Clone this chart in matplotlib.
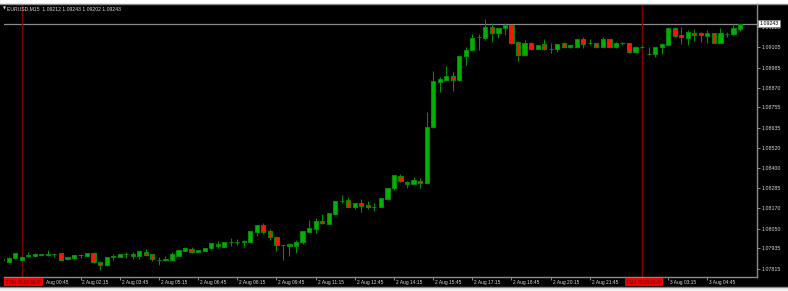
import matplotlib
matplotlib.use("Agg")
import matplotlib.pyplot as plt
from matplotlib.lines import Line2D
from matplotlib.patches import Rectangle
import numpy as np

# ---- data: EURUSD M15, one value per bar (bar 0 = 1 Aug 23:15) ---------- #
opens = [1.07867, 1.07857, 1.07877, 1.07866, 1.07888, 1.07891, 1.07896, 1.07899, 1.07901, 1.07906,
         1.07871, 1.07877, 1.07898, 1.07891, 1.07910, 1.07856, 1.07837, 1.07886, 1.07883, 1.07902,
         1.07904, 1.07891, 1.07916, 1.07901, 1.07869, 1.07870, 1.07869, 1.07892, 1.07922, 1.07930,
         1.07912, 1.07922, 1.07935, 1.07962, 1.07943, 1.07971, 1.07973, 1.07972, 1.07974, 1.08032,
         1.08071, 1.08034, 1.08003, 1.07954, 1.07959, 1.07949, 1.07974, 1.08030, 1.08050, 1.08094,
         1.08079, 1.08137, 1.08208, 1.08215, 1.08178, 1.08201, 1.08187, 1.08176, 1.08174, 1.08221,
         1.08288, 1.08356, 1.08323, 1.08311, 1.08329, 1.08314, 1.08643, 1.08905, 1.08913, 1.08938,
         1.08913, 1.09055, 1.09091, 1.09164, 1.09161, 1.09225, 1.09187, 1.09216, 1.09235, 1.09134,
         1.09059, 1.09129, 1.09094, 1.09123, 1.09097, 1.09097, 1.09129, 1.09105, 1.09105, 1.09152,
         1.09129, 1.09129, 1.09105, 1.09154, 1.09109, 1.09129, 1.09129, 1.09080, 1.09108, 1.09064,
         1.09065, 1.09105, 1.09119, 1.09219, 1.09177, 1.09161, 1.09189, 1.09187, 1.09171, 1.09190,
         1.09132, 1.09183, 1.09181, 1.09212]
highs = [1.07879, 1.07882, 1.07908, 1.07888, 1.07916, 1.07908, 1.07905, 1.07927, 1.07908, 1.07908,
         1.07887, 1.07897, 1.07901, 1.07908, 1.07912, 1.07859, 1.07887, 1.07904, 1.07905, 1.07916,
         1.07912, 1.07921, 1.07931, 1.07904, 1.07887, 1.07891, 1.07912, 1.07927, 1.07945, 1.07945,
         1.07927, 1.07940, 1.07967, 1.07978, 1.07974, 1.07997, 1.07990, 1.07981, 1.08037, 1.08071,
         1.08081, 1.08046, 1.08007, 1.07956, 1.07965, 1.07984, 1.08036, 1.08100, 1.08110, 1.08133,
         1.08142, 1.08211, 1.08246, 1.08236, 1.08202, 1.08221, 1.08213, 1.08197, 1.08229, 1.08289,
         1.08363, 1.08366, 1.08327, 1.08352, 1.08343, 1.08730, 1.08967, 1.08934, 1.08998, 1.08960,
         1.09057, 1.09105, 1.09181, 1.09180, 1.09268, 1.09245, 1.09220, 1.09245, 1.09236, 1.09144,
         1.09148, 1.09138, 1.09120, 1.09152, 1.09129, 1.09126, 1.09138, 1.09118, 1.09154, 1.09164,
         1.09152, 1.09131, 1.09164, 1.09156, 1.09138, 1.09138, 1.09132, 1.09110, 1.09119, 1.09109,
         1.09107, 1.09129, 1.09220, 1.09220, 1.09225, 1.09206, 1.09212, 1.09196, 1.09206, 1.09191,
         1.09216, 1.09196, 1.09241, 1.09243]
lows = [1.07862, 1.07856, 1.07876, 1.07864, 1.07883, 1.07885, 1.07894, 1.07892, 1.07883, 1.07867,
        1.07869, 1.07876, 1.07877, 1.07889, 1.07852, 1.07809, 1.07834, 1.07869, 1.07882, 1.07877,
        1.07873, 1.07871, 1.07891, 1.07863, 1.07838, 1.07863, 1.07866, 1.07891, 1.07920, 1.07906,
        1.07911, 1.07920, 1.07933, 1.07939, 1.07941, 1.07949, 1.07953, 1.07945, 1.07972, 1.08007,
        1.08019, 1.07984, 1.07922, 1.07867, 1.07891, 1.07906, 1.07961, 1.08028, 1.08023, 1.08077,
        1.08077, 1.08135, 1.08201, 1.08174, 1.08166, 1.08148, 1.08166, 1.08154, 1.08173, 1.08220,
        1.08275, 1.08323, 1.08285, 1.08308, 1.08288, 1.08310, 1.08634, 1.08843, 1.08909, 1.08851,
        1.08911, 1.09002, 1.09088, 1.09090, 1.09148, 1.09138, 1.09158, 1.09177, 1.09123, 1.09027,
        1.09058, 1.09090, 1.09093, 1.09090, 1.09070, 1.09080, 1.09099, 1.09104, 1.09104, 1.09099,
        1.09117, 1.09099, 1.09104, 1.09105, 1.09099, 1.09117, 1.09074, 1.09078, 1.09099, 1.09060,
        1.09047, 1.09066, 1.09118, 1.09167, 1.09125, 1.09119, 1.09142, 1.09138, 1.09132, 1.09129,
        1.09129, 1.09167, 1.09177, 1.09202]
closes = [1.07873, 1.07879, 1.07906, 1.07887, 1.07894, 1.07902, 1.07902, 1.07904, 1.07903, 1.07869,
          1.07885, 1.07896, 1.07899, 1.07906, 1.07854, 1.07838, 1.07885, 1.07888, 1.07904, 1.07904,
          1.07892, 1.07920, 1.07898, 1.07871, 1.07870, 1.07872, 1.07901, 1.07926, 1.07935, 1.07914,
          1.07926, 1.07939, 1.07965, 1.07947, 1.07972, 1.07973, 1.07972, 1.07980, 1.08036, 1.08069,
          1.08032, 1.08003, 1.07955, 1.07952, 1.07947, 1.07974, 1.08034, 1.08054, 1.08096, 1.08083,
          1.08141, 1.08209, 1.08210, 1.08178, 1.08201, 1.08182, 1.08174, 1.08177, 1.08228, 1.08288,
          1.08362, 1.08327, 1.08308, 1.08333, 1.08317, 1.08643, 1.08909, 1.08921, 1.08938, 1.08913,
          1.09056, 1.09091, 1.09161, 1.09166, 1.09225, 1.09187, 1.09219, 1.09237, 1.09132, 1.09059,
          1.09132, 1.09094, 1.09119, 1.09094, 1.09098, 1.09125, 1.09109, 1.09117, 1.09152, 1.09125,
          1.09130, 1.09109, 1.09154, 1.09109, 1.09132, 1.09130, 1.09080, 1.09109, 1.09109, 1.09065,
          1.09105, 1.09123, 1.09219, 1.09171, 1.09164, 1.09196, 1.09177, 1.09177, 1.09190, 1.09132,
          1.09190, 1.09184, 1.09219, 1.09243]

price_ticks = [1.07815, 1.07935, 1.08050, 1.08170, 1.08285, 1.08400, 1.08520,
               1.08635, 1.08755, 1.08870, 1.08985, 1.09105, 1.09225]
time_tick_bars = [6, 12, 18, 24, 30, 36, 42, 48, 54, 60, 66, 72, 78, 84, 90, 96, 102, 108]
# first label is half hidden by the red marker, the 23:15 one fully hidden
time_tick_labels = ["Aug 00:45", "2 Aug 02:15", "2 Aug 03:45", "2 Aug 05:15", "2 Aug 06:45",
                    "2 Aug 08:15", "2 Aug 09:45", "2 Aug 11:15", "2 Aug 12:45", "2 Aug 14:15",
                    "2 Aug 15:45", "2 Aug 17:15", "2 Aug 18:45", "2 Aug 20:15", "2 Aug 21:45",
                    "", "3 Aug 03:15", "3 Aug 04:45"]
vline_bars = [3, 98]
vline_labels = ["2024.08.02 00:00", "2024.08.03 00:00"]
last_price = 1.09243
header = "EURUSD,M15  1.09212 1.09243 1.09202 1.09243"

W, H = 788, 291
GREEN_FILL = "#00b000"
GREEN_EDGE = "#009000"
RED_FILL = "#ff1400"
GRAY = "#8a8a8a"
TXT = "#d8d8d8"
FONT = ["Liberation Sans", "DejaVu Sans"]

fig = plt.figure(figsize=(W / 100, H / 100), dpi=100, facecolor="black")
# white strips above and below the terminal window
fig.patches.append(Rectangle((0, 1 - 3.5 / H), 1, 3.5 / H, transform=fig.transFigure,
                             facecolor="white", edgecolor="none", zorder=-5))
fig.patches.append(Rectangle((0, 0), 1, 4 / H, transform=fig.transFigure,
                             facecolor="#f0f0f0", edgecolor="none", zorder=-5))
fig.lines.append(Line2D([0, 1], [1 - 4 / H] * 2, transform=fig.transFigure, color=GRAY, lw=1.0))
fig.lines.append(Line2D([0, 1], [1 - 286.5 / H] * 2, transform=fig.transFigure, color=GRAY, lw=1.0))

ax = fig.add_axes((4 / W, 1 - 277 / H, (757 - 4) / W, (277 - 4) / H))
ax.set_facecolor("black")
n = len(opens)
xs = np.arange(n)
o, h, l, c = map(np.array, (opens, highs, lows, closes))

ax.vlines(xs, l, h, color=GREEN_EDGE, lw=0.75, zorder=2)
bull = c >= o
hgt = np.where(np.abs(c - o) < 0.000012, 0.000012, c - o)
ax.bar(xs, hgt, bottom=o, width=0.64, color=np.where(bull, GREEN_FILL, RED_FILL),
       edgecolor=GREEN_EDGE, linewidth=0.7, zorder=3)

ax.axhline(last_price, color=GRAY, lw=0.9, zorder=1)
for b in vline_bars:
    ax.axvline(b, color="#800000", lw=1.0, zorder=1)

ax.set_xlim(0.28, 115.6)
ax.set_ylim(1.077684, 1.093573)

for s in ("left", "top"):
    ax.spines[s].set_visible(False)
for s in ("right", "bottom"):
    ax.spines[s].set_color(GRAY)
    ax.spines[s].set_linewidth(1.0)

ax.yaxis.tick_right()
ax.set_yticks(price_ticks)
ax.set_yticklabels([f"{p:.5f}" for p in price_ticks], color=TXT, fontsize=3.8, family=FONT)
ax.tick_params(axis="y", length=2.2, width=0.7, color=GRAY, pad=0.9)
ax.set_xticks(time_tick_bars)
ax.set_xticklabels([])
ax.tick_params(axis="x", length=2.2, width=0.7, color=GRAY)

for b, lab in zip(time_tick_bars, time_tick_labels):
    dx = 1.4 if lab.startswith(("2", "3")) else 3.0
    ax.annotate(lab, xy=(b, 0), xycoords=("data", "axes fraction"), xytext=(dx, -3.7),
                textcoords="offset points", ha="left", va="center", color=TXT,
                fontsize=3.5, family=FONT, annotation_clip=False)

for b, lab in zip(vline_bars, vline_labels):
    ax.annotate(lab, xy=(b, 0), xycoords=("data", "axes fraction"), xytext=(1.2, -3.7),
                textcoords="offset points", ha="center", va="center", color="#600000",
                fontsize=3.3, family=FONT, annotation_clip=False, zorder=10,
                bbox=dict(boxstyle="square,pad=0.3", facecolor="#f00000", edgecolor="none"))

ax.annotate(f"{last_price:.5f}", xy=(1, last_price), xycoords=("axes fraction", "data"),
            xytext=(2.0, 0), textcoords="offset points", ha="left", va="center",
            color="black", fontsize=3.8, family=FONT, annotation_clip=False,
            bbox=dict(boxstyle="square,pad=0.25", facecolor="white", edgecolor=GRAY, lw=0.5))

fig.text(2.5 / W, 1 - 8.5 / H, "\u25bc", color=TXT, fontsize=2.8, va="center", family="DejaVu Sans")
fig.text(7 / W, 1 - 8.5 / H, header, color=TXT, fontsize=3.7, va="center", family=FONT)

fig.savefig("out.png", dpi=100, facecolor="black")
